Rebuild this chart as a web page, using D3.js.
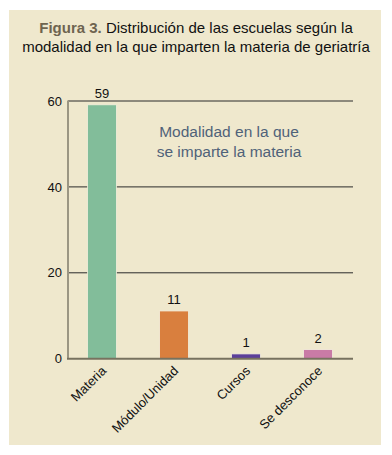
<!DOCTYPE html>
<html>
<head>
<meta charset="utf-8">
<script src="https://cdn.jsdelivr.net/npm/d3@7"></script>
<style>
  body { margin: 0; background: #fff; }
  svg { display: block; font-family: "Liberation Sans", Arial, sans-serif; }
</style>
</head>
<body>
<script>
const categories = ['Materia', 'Módulo/Unidad', 'Cursos', 'Se desconoce']
const values = [59, 11, 1, 2]
const colors = ['#82bd9a', '#d97f3e', '#5b3f9a', '#c97ba6']
const yTicks = [0, 20, 40, 60]

const [width, height] = [392, 455]

const svg = d3.select('body')
    .append('svg')
        .attr('width', width)
        .attr('height', height)

// fondo
svg.append('rect')
    .attr('x', 9).attr('y', 10)
    .attr('width', 372).attr('height', 435)
    .attr('fill', '#efe8cd')

// titulo
const title = svg.append('text')
    .attr('text-anchor', 'middle')
    .attr('font-size', 15)
title.append('tspan')
    .attr('x', 196).attr('y', 33)
    .call(t => t.append('tspan').attr('font-weight', 'bold').attr('fill', '#6e6450').text('Figura 3.'))
    .call(t => t.append('tspan').attr('fill', '#111').text(' Distribución de las escuelas según la'))
title.append('tspan')
    .attr('x', 196).attr('y', 52)
    .attr('fill', '#111')
    .text('modalidad en la que imparten la materia de geriatría')

const x = d3.scaleBand()
    .domain(categories)
    .range([66, 354])
    .paddingInner(0.6)
    .paddingOuter(0.3)

const y = d3.scaleLinear()
    .domain([0, 60])
    .range([358.7, 101])

// lineas de rejilla
svg.append('g')
    .selectAll('line')
    .data(yTicks.filter(d => d > 0))
    .enter()
    .append('line')
        .attr('x1', 68).attr('x2', 353)
        .attr('y1', d => y(d)).attr('y2', d => y(d))
        .attr('stroke', '#2a2a2a')
        .attr('stroke-width', 1)

// eje y
const yAxis = svg.append('g')
    .attr('transform', 'translate(68,0)')
    .call(d3.axisLeft(y).tickValues(yTicks).tickSize(0).tickPadding(6))
yAxis.select('.domain').remove()
yAxis.selectAll('text')
    .attr('font-size', 13)
    .attr('fill', '#111')
    .attr('font-family', '"Liberation Sans", Arial, sans-serif')

svg.append('line')
    .attr('x1', 68).attr('x2', 68)
    .attr('y1', y(60) - 0.5).attr('y2', y(0))
    .attr('stroke', '#9b9683')
    .attr('stroke-width', 2)

// barras
svg.append('g')
    .selectAll('rect')
    .data(values)
    .enter()
    .append('rect')
        .attr('x', (d, i) => x(categories[i]))
        .attr('y', d => y(d) - 0.5)
        .attr('width', x.bandwidth())
        .attr('height', d => y(0) - y(d) + 0.5)
        .attr('fill', (d, i) => colors[i])
        .attr('stroke', '#f3eedc')
        .attr('stroke-width', 0.8)

// etiquetas de valores
svg.append('g')
    .selectAll('text')
    .data(values)
    .enter()
    .append('text')
        .text(d => d)
        .attr('x', (d, i) => x(categories[i]) + x.bandwidth() / 2)
        .attr('y', d => y(d) - 7)
        .attr('text-anchor', 'middle')
        .attr('font-size', 13)
        .attr('fill', '#111')

// linea base
svg.append('line')
    .attr('x1', 67).attr('x2', 353)
    .attr('y1', y(0)).attr('y2', y(0))
    .attr('stroke', '#77725f')
    .attr('stroke-width', 2)

// etiquetas x
svg.append('g')
    .selectAll('text')
    .data(categories)
    .enter()
    .append('text')
        .text(d => d)
        .attr('transform', d => `translate(${x(d) + x.bandwidth() / 2 + 5},${y(0) + 13}) rotate(-45)`)
        .attr('text-anchor', 'end')
        .attr('font-size', 13)
        .attr('fill', '#111')

// nota
const note = svg.append('text')
    .attr('text-anchor', 'middle')
    .attr('font-size', 15.5)
    .attr('fill', '#4f6279')
note.append('tspan').attr('x', 229).attr('y', 137).text('Modalidad en la que')
note.append('tspan').attr('x', 229).attr('y', 157).text('se imparte la materia')
</script>
</body>
</html>
